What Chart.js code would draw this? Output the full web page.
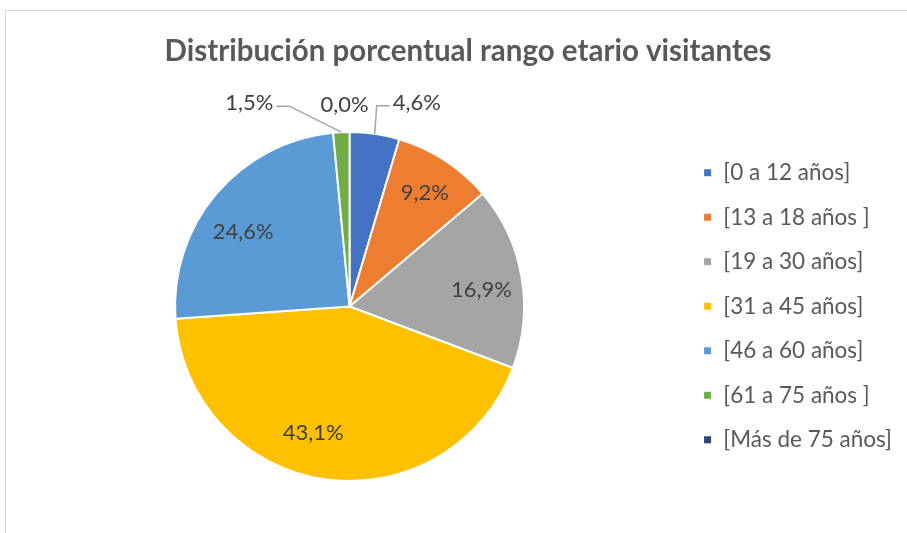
<!DOCTYPE html>
<html>
<head>
<meta charset="utf-8">
<script src="https://cdn.jsdelivr.net/npm/chart.js@4.4.0/dist/chart.umd.min.js"></script>
<style>
    html, body { margin: 0; padding: 0; background: #fff; }
    #wrap { width: 907px; height: 533px; position: relative; }
</style>
</head>
<body>
<div id="wrap"><canvas id="pie-chart"></canvas></div>
<script>
const categories = ['[0 a 12 años]', '[13 a 18 años ]', '[19 a 30 años]', '[31 a 45 años]', '[46 a 60 años]', '[61 a 75 años ]', '[Más de 75 años]'];
const percentages = [4.6, 9.2, 16.9, 43.1, 24.6, 1.5, 0.0];
const sliceColors = ['#4472C4', '#ED7D31', '#A5A5A5', '#FFC000', '#5B9BD5', '#70AD47', '#264478'];
const chartTitle = 'Distribución porcentual rango etario visitantes';

// dónde va cada etiqueta: dentro del sector (radio relativo + giro en grados)
// o fuera, desplazada desde el borde, con línea guía
const labelPlacement = [
    { outside: true, dx: 18, dy: -31, align: 'left', leader: true },
    { outside: false, r: 0.78, turn: 0.4 },
    { outside: false, r: 0.762, turn: 2.7 },
    { outside: false, r: 0.754, turn: 7.7 },
    { outside: false, r: 0.743, turn: -5.3 },
    { outside: true, dx: -68, dy: -29, align: 'right', leader: true },
    { outside: true, dx: -5, dy: -27, align: 'center', leader: false },
];

const fmt = v => v.toFixed(1).replace('.', ',') + '%';

// marco gris + título (centrado sobre todo el gráfico, no sobre el área)
const frameAndTitle = {
    id: 'frameAndTitle',
    beforeDraw(chart) {
        const ctx = chart.ctx;
        ctx.save();
        ctx.strokeStyle = '#D9D9D9';
        ctx.lineWidth = 1;
        ctx.strokeRect(5.5, 10.5, 1200, 1200);
        ctx.font = 'bold 29.5px Lato';
        ctx.fillStyle = '#595959';
        ctx.textAlign = 'center';
        ctx.textBaseline = 'middle';
        ctx.fillText(chartTitle, 468, 51);
        ctx.restore();
    }
};

const pieLabels = {
    id: 'pieLabels',
    afterDatasetsDraw(chart) {
        const ctx = chart.ctx;
        const meta = chart.getDatasetMeta(0);
        ctx.save();
        ctx.font = '22px Lato';
        ctx.fillStyle = '#404040';
        ctx.textBaseline = 'middle';
        meta.data.forEach((arc, i) => {
            const p = labelPlacement[i];
            const mid = (arc.startAngle + arc.endAngle) / 2;
            const text = fmt(percentages[i]);
            if (!p.outside) {
                const r = arc.outerRadius * p.r;
                const a = mid + p.turn * Math.PI / 180;
                ctx.textAlign = 'center';
                ctx.fillText(text, arc.x + Math.cos(a) * r, arc.y + Math.sin(a) * r);
                return;
            }
            const ax = arc.x + Math.cos(mid) * arc.outerRadius;
            const ay = arc.y + Math.sin(mid) * arc.outerRadius;
            const lx = ax + p.dx;
            const ly = ay + p.dy;
            if (p.leader) {
                const edge = p.align === 'left' ? lx - 3 : lx + 3;
                const bend = p.align === 'left' ? edge - 13 : edge + 13;
                ctx.strokeStyle = '#A6A6A6';
                ctx.lineWidth = 1.5;
                ctx.beginPath();
                ctx.moveTo(edge, ly + 3);
                ctx.lineTo(bend, ly + 3);
                ctx.lineTo(ax, ay);
                ctx.stroke();
            }
            ctx.textAlign = p.align;
            ctx.fillText(text, lx, ly);
        });
        ctx.restore();
    }
};

const ctx = document.getElementById('pie-chart').getContext('2d');
new Chart(ctx, {
    type: 'pie',
    data: {
        labels: categories,
        datasets: [{
            data: percentages,
            backgroundColor: sliceColors,
            borderColor: '#FFFFFF',
            borderWidth: 2
        }]
    },
    options: {
        responsive: true,
        maintainAspectRatio: false,
        animation: false,
        layout: { padding: { top: 131, left: 18, right: 5, bottom: 51 } },
        plugins: {
            title: { display: false },
            legend: {
                position: 'right',
                align: 'start',
                title: { display: true, text: '', font: { size: 5 }, padding: { top: 2.5, bottom: 0 } },
                labels: {
                    boxWidth: 9,
                    boxHeight: 9,
                    padding: 22,
                    color: '#595959',
                    font: { family: 'Lato', size: 22.5 }
                }
            },
            tooltip: { enabled: false }
        }
    },
    plugins: [frameAndTitle, pieLabels]
});
</script>
</body>
</html>
